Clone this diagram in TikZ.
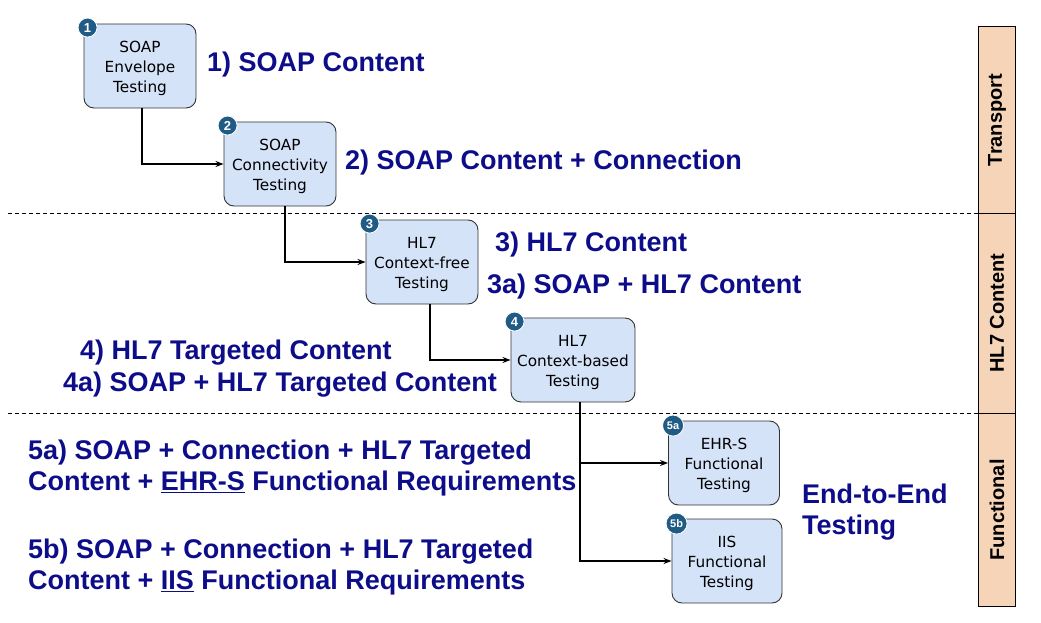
\documentclass[tikz,border=0pt]{standalone}
\usepackage{fontspec}
\setmainfont{Liberation Sans}
\newfontfamily\boxfont{DejaVu Sans}
\usetikzlibrary{positioning}
\usetikzlibrary{arrows.meta}
\definecolor{navy}{HTML}{0D0D8A}
\definecolor{boxblue}{HTML}{D5E3F8}
\definecolor{badgeblue}{HTML}{1F5B85}
\definecolor{peach}{HTML}{F6D4B8}
\newcommand{\topstrut}{\rule{0pt}{17pt}}

\begin{document}
\begin{tikzpicture}[x=1pt,y=-1pt,
    testbox/.style={draw=black!80, line width=0.9pt, fill=boxblue, rounded corners=10pt,
        minimum width=112pt, minimum height=84pt, align=center, inner sep=2pt,
        font=\boxfont\fontsize{15.3}{20}\selectfont},
    badge/.style={circle, fill=badgeblue, draw=white, line width=0.8pt, inner sep=0pt,
        minimum size=19pt, text=white, font=\bfseries\fontsize{13}{13}\selectfont},
    lbl/.style={anchor=west, text=navy, inner sep=0pt, align=left,
        font=\bfseries\fontsize{27}{31}\selectfont},
    band/.style={rotate=90, font=\bfseries\fontsize{20}{20}\selectfont},
    arr/.style={line width=1.4pt, -{Stealth[length=8pt,width=6pt]}}]
    \useasboundingbox (0,0) rectangle (1041,623);
    % layer separators
    \draw[dashed, dash pattern=on 4pt off 3pt] (8,213) -- (978,213);
    \draw[dashed, dash pattern=on 4pt off 3pt] (8,413) -- (978,413);
    % side band
    \draw[fill=peach, line width=0.9pt] (978,26) rectangle (1015,606);
    \draw[line width=0.9pt] (978,213) -- (1015,213);
    \draw[line width=0.9pt] (978,413) -- (1015,413);
    \node[band] (transport) at (997,120) {Transport};
    \node[band] (content) at (997,313) {HL7 Content};
    \node[band] (functional) at (997,510) {Functional};
    % test boxes
    \node[testbox] (box1) at (140,66) {\topstrut SOAP\\Envelope\\Testing};
    \node[testbox] (box2) at (280,164) {\topstrut SOAP\\Connectivity\\Testing};
    \node[testbox] (box3) at (422,262) {\topstrut HL7\\Context-free\\Testing};
    \node[testbox, minimum width=124pt] (box4) at (573,360) {\topstrut HL7\\Context-based\\Testing};
    \node[testbox, minimum width=111pt] (box5a) at (724,463) {\topstrut EHR-S\\Functional\\Testing};
    \node[testbox, minimum width=110pt] (box5b) at (727,561) {\topstrut IIS\\Functional\\Testing};
    % numbered badges
    \node[badge] (b1) at ([shift={(4,4)}]box1.north west) {1};
    \node[badge] (b2) at ([shift={(4,4)}]box2.north west) {2};
    \node[badge] (b3) at ([shift={(4,4)}]box3.north west) {3};
    \node[badge] (b4) at ([shift={(4,4)}]box4.north west) {4};
    \node[badge, minimum size=21pt, font=\bfseries\fontsize{11}{11}\selectfont] (b5a) at ([shift={(5,5)}]box5a.north west) {5a};
    \node[badge, minimum size=21pt, font=\bfseries\fontsize{11}{11}\selectfont] (b5b) at ([shift={(5,5)}]box5b.north west) {5b};
    % connectors
    \draw[arr] ([xshift=2pt]box1.south) |- (box2.west);
    \draw[arr] ([xshift=5pt]box2.south) |- (box3.west);
    \draw[arr] ([xshift=8pt]box3.south) |- (box4.west);
    \coordinate (split) at ([xshift=7pt]box4.south);
    \draw[arr] (split) |- (box5a.west);
    \draw[arr] (split) |- (box5b.west);
    % descriptions
    \node[lbl] (t1) at (207,65) {1) SOAP Content};
    \node[lbl] (t2) at (345,163) {2) SOAP Content + Connection};
    \node[lbl] (t3) at (495,245) {3) HL7 Content};
    \node[lbl] (t3a) at (487,287) {3a) SOAP + HL7 Content};
    \node[lbl] (t4) at (80,353) {4) HL7 Targeted Content};
    \node[lbl] (t4a) at (63,385) {4a) SOAP + HL7 Targeted Content};
    \node[lbl] (t5a) at (28,468) {5a) SOAP + Connection + HL7 Targeted\\Content + \underline{EHR-S} Functional Requirements};
    \node[lbl] (t5b) at (28,567) {5b) SOAP + Connection + HL7 Targeted\\Content + \underline{IIS} Functional Requirements};
    \node[lbl] (e2e) at (802,512) {End-to-End\\Testing};
\end{tikzpicture}
\end{document}
